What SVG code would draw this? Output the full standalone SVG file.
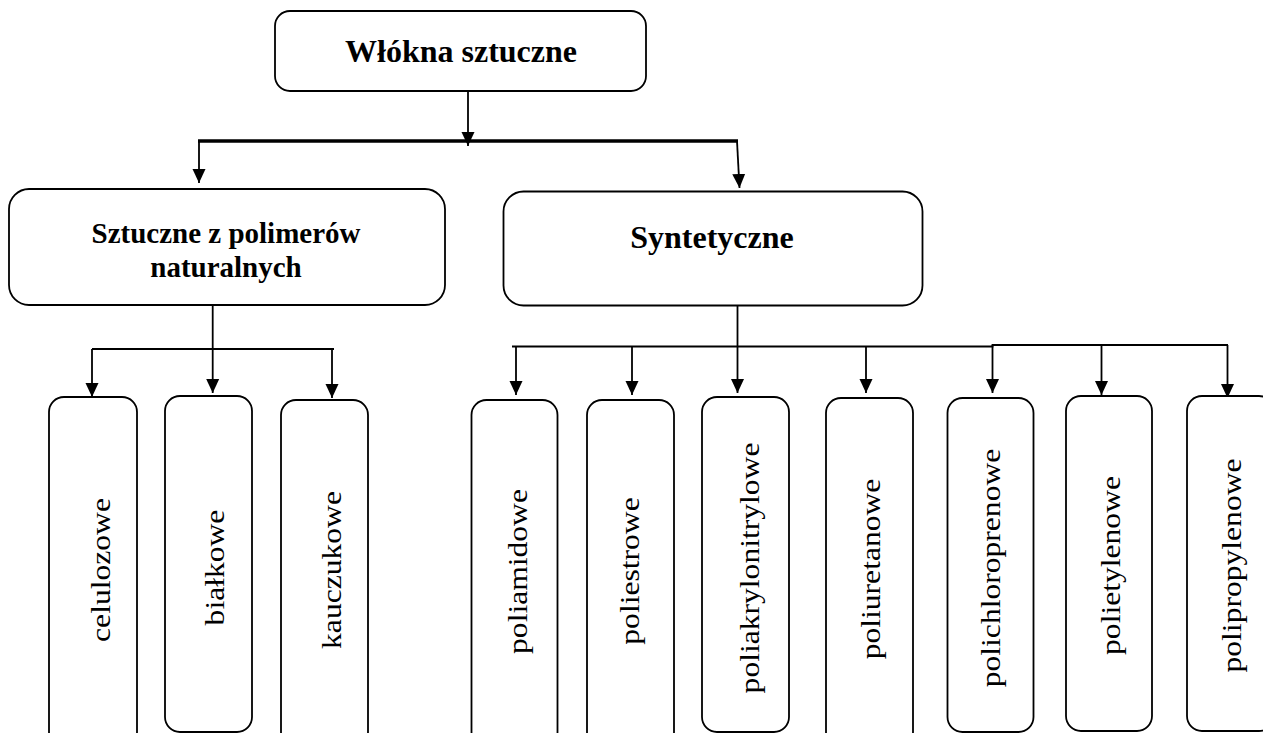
<svg xmlns="http://www.w3.org/2000/svg" width="1263" height="733" viewBox="0 0 1263 733">
  <style>
    .box { fill: #ffffff; stroke: #000000; stroke-width: 1.8; }
    .head { font-family: "Liberation Serif", "Times New Roman", serif; font-weight: bold; fill: #000000; text-anchor: middle; }
    .leaf { font-family: "Liberation Serif", "Times New Roman", serif; font-size: 27px; fill: #000000; text-anchor: middle; }
    .wire { fill: none; stroke: #000000; stroke-width: 1.8; }
    .bus { fill: none; stroke: #000000; stroke-width: 3.5; }
  </style>
  <defs>
    <marker id="arrow" markerUnits="userSpaceOnUse" viewBox="0 0 14 14" refX="14" refY="7" markerWidth="14" markerHeight="14" orient="auto">
      <path d="M0,0.5 L14,7 L0,13.5 z" fill="#000000"/>
    </marker>
  </defs>

  <!-- connectors -->
  <g id="connectors">
    <!-- root to first level -->
    <line class="wire" x1="468" y1="91" x2="468" y2="146" marker-end="url(#arrow)"/>
    <line class="bus" x1="198" y1="141" x2="738" y2="141"/>
    <line class="wire" x1="199" y1="141" x2="199" y2="183" marker-end="url(#arrow)"/>
    <line class="wire" x1="737" y1="141" x2="739.5" y2="188" marker-end="url(#arrow)"/>

    <!-- natural polymers branch -->
    <line class="wire" x1="212.7" y1="305" x2="212.7" y2="393" marker-end="url(#arrow)"/>
    <line class="wire" x1="92" y1="349" x2="334" y2="349"/>
    <line class="wire" x1="92" y1="349" x2="92" y2="397" marker-end="url(#arrow)"/>
    <line class="wire" x1="332" y1="350" x2="332" y2="398" marker-end="url(#arrow)"/>

    <!-- synthetic branch -->
    <line class="wire" x1="737.5" y1="306" x2="737.5" y2="393" marker-end="url(#arrow)"/>
    <polyline class="wire" points="512,346.5 992.5,346.5 992.5,345 1228,345"/>
    <line class="wire" x1="516" y1="347" x2="516" y2="395" marker-end="url(#arrow)"/>
    <line class="wire" x1="632" y1="347" x2="632" y2="395" marker-end="url(#arrow)"/>
    <line class="wire" x1="866" y1="346" x2="866" y2="393" marker-end="url(#arrow)"/>
    <line class="wire" x1="992.5" y1="345" x2="992.5" y2="393" marker-end="url(#arrow)"/>
    <line class="wire" x1="1101.5" y1="345" x2="1101.5" y2="395" marker-end="url(#arrow)" stroke-width="2.4"/>
    <line class="wire" x1="1227.5" y1="345" x2="1227.5" y2="398" marker-end="url(#arrow)"/>
  </g>

  <!-- root -->
  <g id="wlokna-sztuczne">
    <rect class="box" x="275" y="11" width="371" height="80" rx="15"/>
    <text class="head" x="461" y="62" font-size="32">Włókna sztuczne</text>
  </g>

  <!-- first level -->
  <g id="sztuczne-naturalne">
    <rect class="box" x="9" y="189" width="436" height="116" rx="20"/>
    <text class="head" x="226" y="243" font-size="29">Sztuczne z polimerów</text>
    <text class="head" x="226" y="276.5" font-size="29">naturalnych</text>
  </g>
  <g id="syntetyczne">
    <rect class="box" x="503.5" y="191.5" width="419" height="114" rx="20"/>
    <text class="head" x="712" y="248" font-size="32">Syntetyczne</text>
  </g>

  <!-- natural polymer fibres -->
  <g id="celulozowe">
    <rect class="box" x="49" y="397" width="88" height="350" rx="15"/>
    <text class="leaf" transform="translate(110,570) rotate(-90) scale(1.17,1)">celulozowe</text>
  </g>
  <g id="bialkowe">
    <rect class="box" x="165" y="396" width="87" height="336" rx="15"/>
    <text class="leaf" transform="translate(224,567.5) rotate(-90) scale(1.17,1)">białkowe</text>
  </g>
  <g id="kauczukowe">
    <rect class="box" x="281" y="400" width="87" height="347" rx="15"/>
    <text class="leaf" transform="translate(341,570) rotate(-90) scale(1.17,1)">kauczukowe</text>
  </g>

  <!-- synthetic fibres -->
  <g id="poliamidowe">
    <rect class="box" x="471.5" y="400" width="86" height="347" rx="15"/>
    <text class="leaf" transform="translate(527,571.5) rotate(-90) scale(1.17,1)">poliamidowe</text>
  </g>
  <g id="poliestrowe">
    <rect class="box" x="587" y="400" width="87" height="347" rx="15"/>
    <text class="leaf" transform="translate(639,571) rotate(-90) scale(1.17,1)">poliestrowe</text>
  </g>
  <g id="poliakrylonitrylowe">
    <rect class="box" x="702" y="397" width="87" height="335" rx="15"/>
    <text class="leaf" transform="translate(759,568) rotate(-90) scale(1.17,1)">poliakrylonitrylowe</text>
  </g>
  <g id="poliuretanowe">
    <rect class="box" x="826" y="398" width="87" height="349" rx="15"/>
    <text class="leaf" transform="translate(880,569) rotate(-90) scale(1.17,1)">poliuretanowe</text>
  </g>
  <g id="polichloroprenowe">
    <rect class="box" x="947.5" y="398" width="86" height="334" rx="15"/>
    <text class="leaf" transform="translate(1000,568) rotate(-90) scale(1.17,1)">polichloroprenowe</text>
  </g>
  <g id="polietylenowe">
    <rect class="box" x="1066" y="396" width="86" height="335" rx="15"/>
    <text class="leaf" transform="translate(1120,565.5) rotate(-90) scale(1.17,1)">polietylenowe</text>
  </g>
  <g id="polipropylenowe">
    <rect class="box" x="1187" y="396" width="87" height="335" rx="15"/>
    <text class="leaf" transform="translate(1241,565.5) rotate(-90) scale(1.17,1)">polipropylenowe</text>
  </g>
</svg>
